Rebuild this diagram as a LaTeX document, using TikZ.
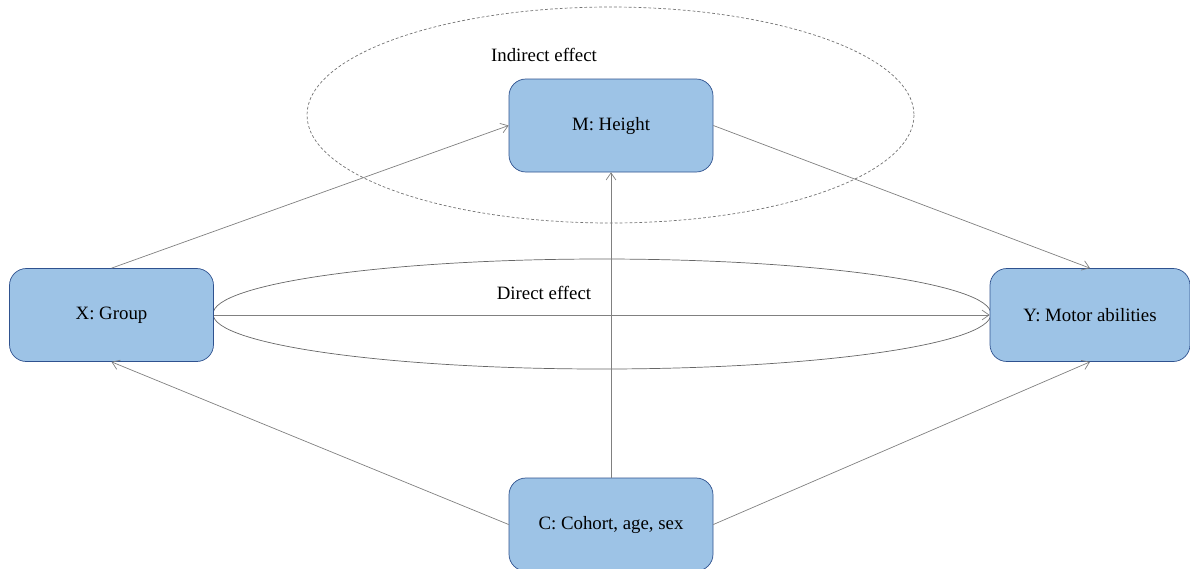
\documentclass[tikz,border=0pt]{standalone}
\usepackage{fontspec}
\setmainfont{Liberation Serif}
\usetikzlibrary{calc}
\usetikzlibrary{positioning}
\usetikzlibrary{arrows.meta}
\definecolor{boxfill}{RGB}{157,195,230}
\definecolor{boxline}{RGB}{47,82,143}
\definecolor{linkgray}{RGB}{128,128,128}

\begin{document}
\begin{tikzpicture}[%
  x=0.025cm, y=-0.025cm,
  >={Straight Barb[length=5pt,width=7pt,line width=0.5pt]},
  var/.style={draw=boxline, fill=boxfill, rounded corners=12pt, line width=0.5pt,
    minimum width=204*0.025cm, minimum height=93*0.025cm, inner sep=0pt,
    font=\fontsize{13.4}{16}\selectfont},
  link/.style={->, draw=linkgray, line width=0.5pt},
  effect/.style={font=\fontsize{13.4}{16}\selectfont},
]

  \useasboundingbox (0,0) rectangle (1190,568);

  % effect regions
  \draw[dash pattern=on 2pt off 1.5pt, draw=black!55, line width=0.5pt]
    (610.5,115) ellipse [x radius=303.5, y radius=108];
  \draw[draw=black!60, line width=0.5pt]
    (602,314) ellipse [x radius=389, y radius=55];

  \node[effect] (indirect) at (544,55) {Indirect effect};
  \node[effect] (direct) at (544,293) {Direct effect};

  % variables
  \node[var] (m) at (611,125.5) {M: Height};
  \node[var] (x) at (111.5,315) {X: Group};
  \node[var, minimum width=200*0.025cm] (y) at (1090,315) {Y: Motor abilities};
  \node[var] (c) at (611,524.5) {C: Cohort, age, sex};

  % paths
  \draw[link] (x.north) -- (m.west);
  \draw[link] (m.east) -- (y.north);
  \draw[link] (x.east) -- (y.west);
  \draw[link] (c.north) -- (m.south);
  \draw[link] (c.west) -- (x.south);
  \draw[link] (c.east) -- (y.south);

\end{tikzpicture}
\end{document}
